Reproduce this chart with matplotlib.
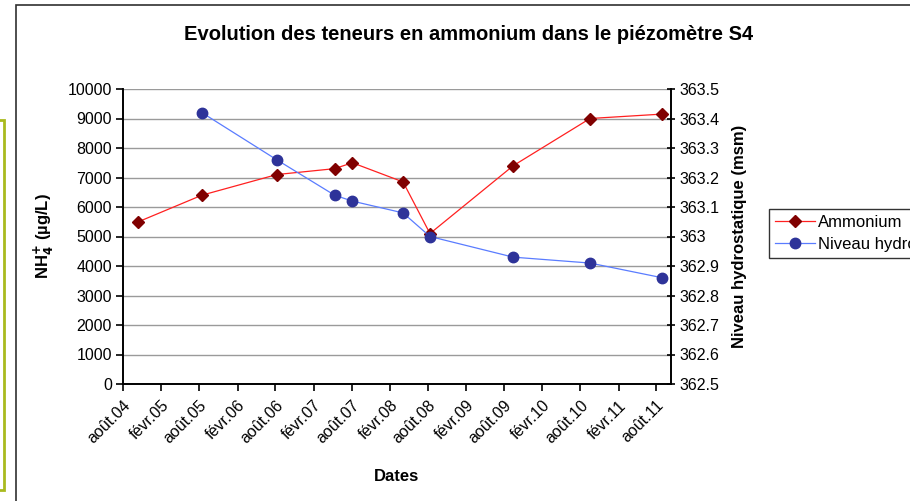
import matplotlib
matplotlib.use("Agg")
import matplotlib.pyplot as plt
from matplotlib.patches import Rectangle
from datetime import date

plt.rcParams['font.family'] = ['Liberation Sans', 'DejaVu Sans']

# data
nh4_dates = [date(2004, 10, 14), date(2005, 8, 14), date(2006, 8, 8), date(2007, 5, 12),
             date(2007, 8, 5), date(2008, 4, 4), date(2008, 8, 11), date(2009, 9, 14),
             date(2010, 9, 17), date(2011, 8, 30)]
nh4_values = [5500, 6400, 7100, 7300, 7500, 6850, 5100, 7400, 9000, 9150]

niveau_dates = nh4_dates[1:]
niveau_values = [363.42, 363.26, 363.14, 363.12, 363.08, 363.00, 362.93, 362.91, 362.86]

tick_dates = [date(2004 + (i + 1) // 2, 8 if i % 2 == 0 else 2, 1) for i in range(15)]
tick_labels = ['août.04', 'févr.05', 'août.05', 'févr.06', 'août.06', 'févr.07', 'août.07',
               'févr.08', 'août.08', 'févr.09', 'août.09', 'févr.10', 'août.10', 'févr.11',
               'août.11']

fig = plt.figure(figsize=(9.1, 5.01), dpi=100)
ax = fig.add_axes([123 / 910, 1 - 384 / 501, (671 - 123) / 910, (384 - 89) / 501])
ax2 = ax.twinx()

# chart frame + green box at left edge
fig.patches.append(Rectangle((16 / 910, -0.01), 1.0, 1 - 5 / 501 + 0.01, transform=fig.transFigure,
                             fill=False, edgecolor='#303030', lw=1.2, zorder=0))
fig.patches.append(Rectangle((-0.01, 1 - 490 / 501), 4 / 910 + 0.01, (490 - 120) / 501,
                             transform=fig.transFigure, fill=False, edgecolor='#A9BA1E', lw=2, zorder=0))

l1, = ax.plot(nh4_dates, nh4_values, color='#FF2020', lw=0.9, marker='D', ms=6.5,
              mfc='#800000', mec='#800000', label='Ammonium', zorder=3)
l2, = ax2.plot(niveau_dates, niveau_values, color='#5A7CFF', lw=0.9, marker='o', ms=7.5,
               mfc='#2E3399', mec='#2E3399', label='Niveau hydrostatique', zorder=3)

ax.set_ylim(0, 10000)
ax.set_yticks(range(0, 10001, 1000))
ax2.set_ylim(362.5, 363.5)
ax2.set_yticks([362.5 + 0.1 * i for i in range(11)])
ax2.set_yticklabels(['362.5', '362.6', '362.7', '362.8', '362.9', '363', '363.1', '363.2',
                     '363.3', '363.4', '363.5'])

ax.set_xlim(date(2004, 8, 1), date(2011, 10, 10))
ax.set_xticks(tick_dates)
ax.set_xticklabels(tick_labels, rotation=45, ha='right', va='top', rotation_mode='anchor')

ax.grid(axis='y', color='#9A9A9A', lw=1)
ax.set_axisbelow(True)
for a in (ax, ax2):
    a.spines['top'].set_visible(False)
    for s in a.spines.values():
        s.set_linewidth(1.2)
        s.set_color('black')
ax.tick_params(axis='both', labelsize=11.5, length=5, width=1.2, colors='black', pad=3)
ax.tick_params(axis='x', pad=5)
ax2.tick_params(axis='y', labelsize=11.5, length=6, width=1.2, direction='inout', pad=3)

ax.set_ylabel('NH$_\\mathbf{4}^\\mathbf{+}$ (µg/L)', fontsize=12, fontweight='bold', labelpad=8)
ax2.set_ylabel('Niveau hydrostatique (msm)', fontsize=12, fontweight='bold', labelpad=9)
ax.set_xlabel('Dates', fontsize=12, fontweight='bold', labelpad=16)
fig.text(469 / 910, 1 - 34 / 501, 'Evolution des teneurs en ammonium dans le piézomètre S4',
         ha='center', va='center', fontsize=14.5, fontweight='bold')

leg = fig.legend(handles=[l1, l2], loc='upper left', bbox_to_anchor=(769 / 910, 1 - 209 / 501),
                 fontsize=12, frameon=True, fancybox=False, edgecolor='black',
                 borderpad=0.35, handlelength=2.4, handletextpad=0.2, labelspacing=0.45,
                 borderaxespad=0)
leg.get_frame().set_linewidth(1.0)

fig.savefig('out.png', dpi=100)
